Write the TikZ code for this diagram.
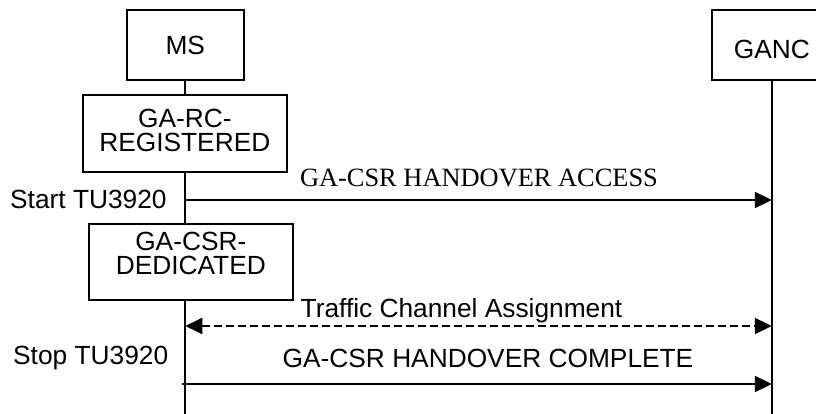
\documentclass[tikz,border=0pt]{standalone}
\usepackage{fontspec}
\setmainfont{Liberation Sans}
\newfontfamily\serifmsg{Liberation Serif}
\usetikzlibrary{arrows.meta}
\tikzset{
  entity/.style={draw, line width=1.6pt, minimum width=117pt, minimum height=70pt, inner sep=0pt, anchor=north west},
  statebox/.style={draw, line width=1.6pt, minimum width=204pt, minimum height=77pt, inner sep=0pt, align=center, anchor=north west},
  lifeline/.style={line width=2pt},
  msg/.style={line width=2pt, -{Triangle[length=17pt,width=16pt]}},
  dmsg/.style={line width=2pt, dash pattern=on 8pt off 4pt, {Triangle[length=17pt,width=16pt]}-{Triangle[length=17pt,width=16pt]}},
  lbl/.style={inner sep=0pt, anchor=base},
  side/.style={inner sep=0pt, anchor=base west}
}
\begin{document}
\begin{tikzpicture}[x=1pt,y=-1pt,font=\fontsize{26.3}{23.5}\selectfont]
\clip (0,0) rectangle (816,414);
\fill[white] (0,0) rectangle (816,414);
% entities
\node[entity, text height=19pt] (ms) at (126,9) {MS};
\node[entity, minimum width=120pt, text height=28pt] (ganc) at (711,9) {GANC};
% lifeline ends
\coordinate (msend) at (ms.south |- 0,414);
\coordinate (gancend) at (ganc.south |- 0,414);
\draw[lifeline] (ms.south) -- (msend);
\draw[lifeline] (ganc.south) -- (gancend);
% state boxes
\node[statebox, fill=white, text depth=6pt] (reg) at (82,94) {GA-RC-\\REGISTERED};
\node[statebox, fill=white, text depth=17pt, minimum height=76pt] (ded) at (88,223) {GA-CSR-\\DEDICATED};
% message coordinates
\coordinate (m1s) at (ms.south |- 0,200);
\coordinate (m1e) at (ganc.south |- 0,200);
\coordinate (m2s) at (ms.south |- 0,326);
\coordinate (m2e) at (ganc.south |- 0,326);
\coordinate (m3s) at ([xshift=-3pt]ms.south |- 0,384);
\coordinate (m3e) at (ganc.south |- 0,384);
\draw[msg] (m1s) -- (m1e);
\draw[dmsg] (m2s) -- (m2e);
\draw[msg] (m3s) -- (m3e);
% labels
\node[lbl, font=\fontsize{26.4}{28}\serifmsg] (l1) at (479,186) {GA-CSR HANDOVER ACCESS};
\node[lbl] (l2) at (461.5,317) {Traffic Channel Assignment};
\node[lbl] (l3) at (488,367) {GA-CSR HANDOVER COMPLETE};
\node[side] (t1) at (10,208) {Start TU3920};
\node[side] (t2) at (13,364) {Stop TU3920};
\end{tikzpicture}
\end{document}
